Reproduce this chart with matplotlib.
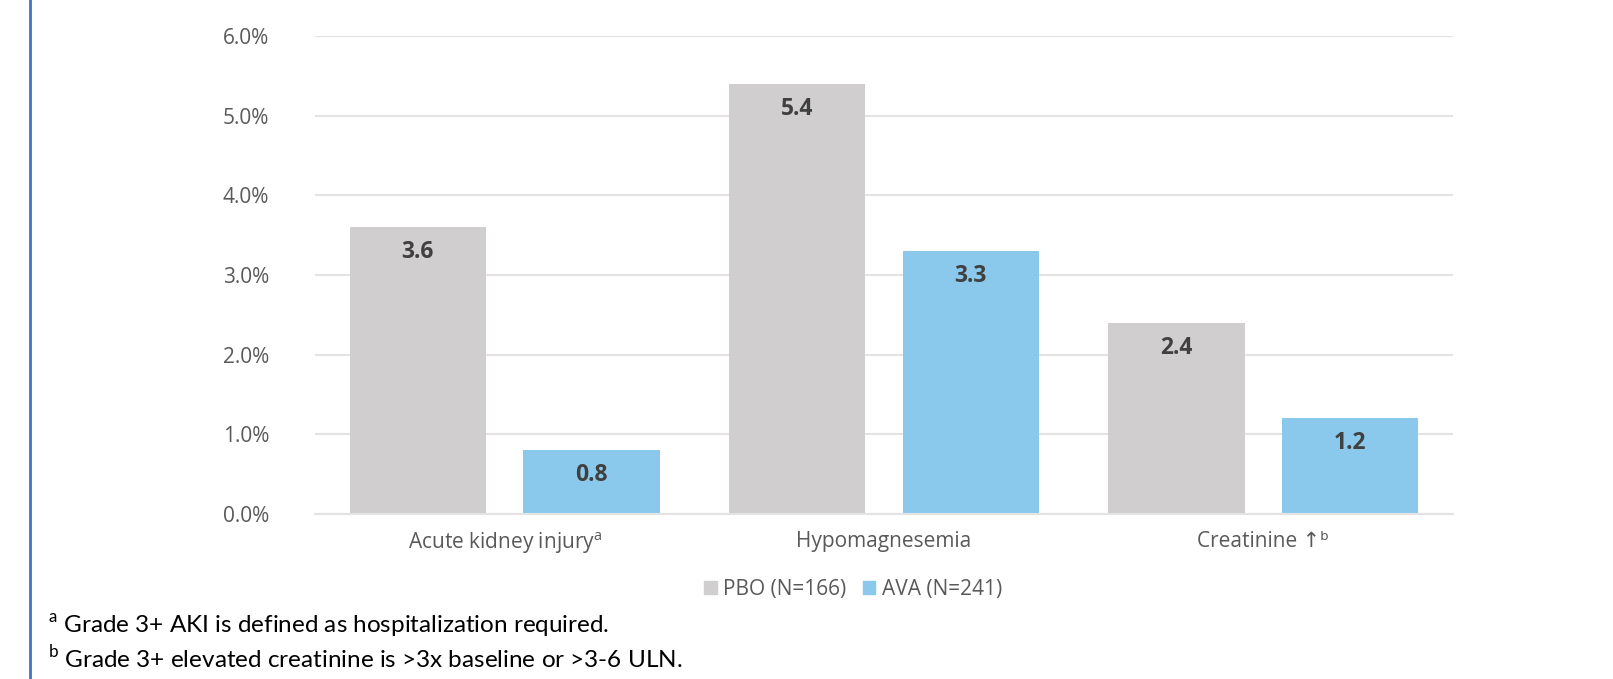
import numpy as np
import matplotlib.pyplot as plt
from matplotlib.lines import Line2D
from matplotlib.patches import Patch

# data
categories = ["Acute kidney injury$^{\\mathregular{a}}$", "Hypomagnesemia",
              "Creatinine \u2191\u1d47"]
pbo = [3.6, 5.4, 2.4]
ava = [0.8, 3.3, 1.2]
series_names = ["PBO (N=166)", "AVA (N=241)"]
yticks = [0, 1, 2, 3, 4, 5, 6]
footnotes = ["$^{\\mathregular{a}}$ Grade 3+ AKI is defined as hospitalization required.",
             "$^{\\mathregular{b}}$ Grade 3+ elevated creatinine is >3x baseline or >3-6 ULN."]

gray = "#D0CECF"
blue = "#8BC9EC"

plt.rcParams['font.family'] = ['Open Sans', 'DejaVu Sans']

fig = plt.figure(figsize=(16.13, 6.79), dpi=100)
W, H = 1613, 679
ax = fig.add_axes([315 / W, 1 - 514 / H, (1453 - 315) / W, (514 - 36) / H])

x = np.arange(len(categories))
bw = 0.36
off = 0.229
b1 = ax.bar(x - off, pbo, bw, color=gray, zorder=2)
b2 = ax.bar(x + off, ava, bw, color=blue, zorder=2)

for bars, vals in ((b1, pbo), (b2, ava)):
    for rect, v in zip(bars, vals):
        ax.annotate(f"{v:.1f}", (rect.get_x() + rect.get_width() / 2, v),
                    xytext=(0, -18), textcoords="offset points",
                    ha="center", va="center", fontsize=16.5, fontweight="bold",
                    color="#404040")

ax.set_xlim(-0.5, 2.5)
ax.set_ylim(0, 6)
ax.set_yticks(yticks)
ax.set_yticklabels([f"{t:.1f}%" for t in yticks])
ax.set_xticks(x)
ax.set_xticklabels(categories)
ax.tick_params(axis="both", length=0, labelsize=15, colors="#595959")
ax.tick_params(axis="y", pad=33)
ax.tick_params(axis="x", pad=12)
ax.grid(axis="y", color="#E3E3E3", linewidth=1.5, zorder=0)
for s in ["top", "right", "left"]:
    ax.spines[s].set_visible(False)
ax.spines["bottom"].set_color("#E3E3E3")
ax.spines["bottom"].set_linewidth(1.5)

handles = [Patch(color=gray), Patch(color=blue)]
fig.legend(handles, series_names, loc="center", bbox_to_anchor=(853 / W, 1 - 589 / H),
           ncol=2, frameon=False, fontsize=15, handlelength=0.6, handleheight=0.6,
           handletextpad=0.3, columnspacing=0.8, labelcolor="#595959")

fig.text(48 / W, 1 - 626 / H, footnotes[0], fontsize=17.5, va="center", color="black",
         family=['Lato', 'DejaVu Sans'])
fig.text(48 / W, 1 - 658 / H, footnotes[1], fontsize=17.5, va="center", color="black",
         family=['Lato', 'DejaVu Sans'])

# left border line
fig.add_artist(Line2D([30 / W, 30 / W], [0, 1], color="#4472C4", linewidth=2))

fig.savefig("out.png", dpi=100)
